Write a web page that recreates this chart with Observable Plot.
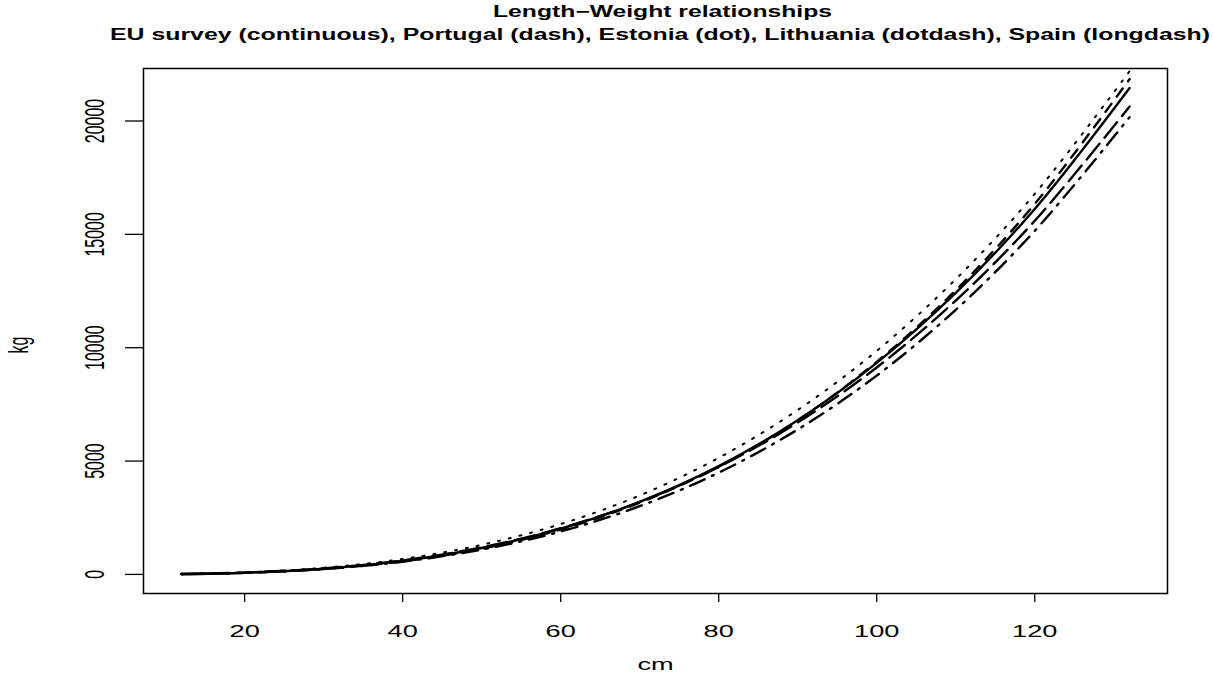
<!DOCTYPE html>
<html>
<head>
<meta charset="utf-8">
<script src="https://cdn.jsdelivr.net/npm/d3@7"></script>
<script src="https://cdn.jsdelivr.net/npm/@observablehq/plot@0.6"></script>
<style>
  html, body { margin: 0; padding: 0; background: #fff; }
  body { width: 1213px; height: 677px; overflow: hidden; font-family: "Liberation Sans", Arial, sans-serif; }
  #head { position: relative; width: 1213px; height: 48px; }
  .tl { position: absolute; left: 0; top: 0; white-space: nowrap; font-weight: bold; font-size: 16px; line-height: 1; color: #000; }
</style>
</head>
<body>
<div id="head">
  <span class="tl" id="t1">Length−Weight relationships</span>
  <span class="tl" id="t2">EU survey (continuous), Portugal (dash), Estonia (dot), Lithuania (dotdash), Spain (longdash)</span>
</div>
<div id="chart"></div>
<script>
// ---- data ----
const lengths   = [12, 20, 30, 40, 50, 60, 70, 80, 90, 100, 110, 120, 132];
const euSurvey  = [16.1, 74.6, 251.9, 597.1, 1166.3, 2015.3, 3200.2, 4777.0, 6801.6, 9330, 12418, 16122, 21458];
const portugal  = [14.6, 69.5, 239.2, 574.7, 1134.3, 1977.0, 3162.5, 4750.5, 6801.6, 9376.5, 12536, 16342, 21849];
const estonia   = [20.3, 90.1, 294, 681, 1305, 2221, 3483, 5142, 7252, 9862, 13022, 16786, 22195];
const lithuania = [15.1, 70.1, 236.8, 561.3, 1096, 1894, 3008, 4490, 6394, 8770, 11673, 15155, 20170];
const spain     = [17.96, 80.6, 265.5, 618.4, 1191.1, 2035.3, 3201.5, 4739.7, 6699.6, 9130.5, 12081, 15601, 20642];
const seriesNames = ["EU survey", "Portugal", "Estonia", "Lithuania", "Spain"];
const seriesValues = [euSurvey, portugal, estonia, lithuania, spain];
const xTicks = [20, 40, 60, 80, 100, 120];
const yTicks = [0, 5000, 10000, 15000, 20000];

// ---- styles ----
const lineStyles = {
  "EU survey": {dash: null, width: 2.4},
  "Portugal":  {dash: "10,9", width: 2.4},
  "Estonia":   {dash: "2,9", width: 2},
  "Lithuania": {dash: "2,8,16,8", width: 2.4},
  "Spain":     {dash: "20,8", width: 2.4}
};

const rows = seriesNames.flatMap((s, i) => lengths.map((L, j) => ({series: s, L, W: seriesValues[i][j]})));

const lineMarks = seriesNames.map(s => Plot.line(rows.filter(d => d.series === s), {
  x: "L", y: "W", stroke: "#000",
  strokeWidth: lineStyles[s].width,
  strokeDasharray: lineStyles[s].dash ?? undefined,
  curve: "catmull-rom", clip: true
}));

const chart = Plot.plot({
  width: 1213, height: 629,
  marginTop: 20, marginBottom: 84, marginLeft: 143, marginRight: 46,
  style: {fontFamily: "'Liberation Sans', Arial, sans-serif", fontSize: "16px", color: "#000", background: "#fff", overflow: "visible"},
  x: {domain: [7.2, 136.8]},
  y: {domain: [-842, 22316]},
  marks: [
    Plot.frame({stroke: "#000", strokeWidth: 1.5}),
    Plot.axisX(xTicks, {tickSize: 9, tickPadding: 23, strokeWidth: 1.3, fontSize: 16,
      tickFormat: d => String(d),
      label: "cm", labelAnchor: "center", labelOffset: 76, labelArrow: "none"}),
    Plot.axisY(yTicks, {tickSize: 18, tickPadding: 22, tickRotate: -90, strokeWidth: 1.3, fontSize: 16,
      tickFormat: d => String(d),
      label: "kg", labelAnchor: "center", labelOffset: 135, labelArrow: "none"}),
    ...lineMarks
  ]
});
document.getElementById("chart").appendChild(chart);

// horizontal stretch of text, as in the reference image
const SX = 1.7;
function stretchText(el, sx, sy) {
  const x = el.getAttribute("x"), y = el.getAttribute("y");
  if (x != null && x !== "" && !isNaN(+x)) el.setAttribute("x", +x / sx);
  if (y != null && y !== "" && !isNaN(+y)) el.setAttribute("y", +y / sy);
  const t = el.getAttribute("transform") || "";
  el.setAttribute("transform", (t + ` scale(${sx},${sy})`).trim());
}
chart.querySelectorAll('g[aria-label="x-axis tick label"] text, g[aria-label="x-axis label"] text')
  .forEach(el => stretchText(el, SX, 1));
chart.querySelectorAll('g[aria-label="y-axis tick label"] text, g[aria-label="y-axis label"] text')
  .forEach(el => stretchText(el, 1, SX));
// the y-axis title sits a little lower in the reference
chart.querySelectorAll('g[aria-label="y-axis label"] text').forEach(el => {
  el.setAttribute("transform", "translate(0,14) " + (el.getAttribute("transform") || ""));
});

function placeTitle(el, cx, cy, targetW) {
  const r = el.getBoundingClientRect();
  const s = targetW / r.width;
  el.style.left = (cx - targetW / 2) + "px";
  el.style.top = (cy - r.height / 2) + "px";
  el.style.transformOrigin = "0 50%";
  el.style.transform = `scaleX(${s})`;
}
placeTitle(document.getElementById("t1"), 662, 12, 339);
placeTitle(document.getElementById("t2"), 660, 35, 1100);
</script>
</body>
</html>
